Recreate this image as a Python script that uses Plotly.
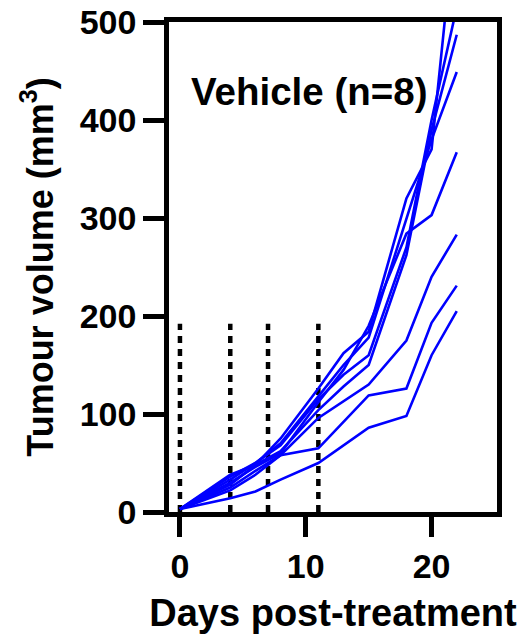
import plotly.graph_objects as go

days = [0, 4, 6, 8, 11, 13, 15, 18, 20, 22]
mouse_1 = [3, 38, 48, 75, 126, 162, 184, 320, 370, 620]
mouse_2 = [3, 33, 50, 68, 115, 140, 160, 270, 400, 515]
mouse_3 = [3, 28, 48, 62, 104, 128, 150, 262, 390, 487]
mouse_4 = [3, 36, 50, 70, 118, 150, 178, 300, 380, 449]
mouse_5 = [3, 30, 46, 60, 112, 145, 190, 284, 303, 367]
mouse_6 = [3, 25, 42, 58, 96, 113, 130, 175, 240, 283]
mouse_7 = [3, 22, 38, 58, 65, 92, 119, 126, 193, 231]
mouse_8 = [3, 14, 21, 33, 50, 68, 86, 98, 160, 205]
mice = [mouse_1, mouse_2, mouse_3, mouse_4, mouse_5, mouse_6, mouse_7, mouse_8]

treatment_days = [0, 4, 7, 11]
treatment_marker_range = [0, 192]

x_ticks = [0, 10, 20]
y_ticks = [0, 100, 200, 300, 400, 500]

FONT = "Liberation Sans, Arial, Helvetica, sans-serif"

fig = go.Figure()

for d in treatment_days:
    fig.add_trace(go.Scatter(
        x=[d, d], y=treatment_marker_range, mode="lines",
        line=dict(color="black", width=4.5, dash="7px,6px"),
        hoverinfo="skip", showlegend=False,
    ))

for m in mice:
    fig.add_trace(go.Scatter(
        x=days, y=m, mode="lines",
        line=dict(color="#0000FF", width=2.6),
        showlegend=False,
    ))

fig.add_annotation(
    text="Vehicle (n=8)", xref="paper", yref="paper",
    x=0.427, y=0.906, showarrow=False,
    font=dict(family=FONT, size=38.5, color="black", weight="bold"),
)

axis_common = dict(
    showline=True, linecolor="black", linewidth=4.5, mirror=True,
    ticks="outside", tickcolor="black", tickwidth=4.5,
    showgrid=False, zeroline=False, automargin=False,
    ticklabeloverflow="allow",
    tickfont=dict(family=FONT, size=34, color="black", weight="bold"),
)

fig.update_xaxes(
    range=[-0.87, 25.2], tickvals=x_ticks, ticklen=20,
    title=dict(text="Days post-treatment", standoff=17,
               font=dict(family=FONT, size=38, color="black", weight="bold")),
    **axis_common,
)
fig.update_yaxes(
    range=[0, 500], tickvals=y_ticks, ticklen=21,
    title=dict(text="Tumour volume (mm<sup>3</sup>)", standoff=17,
               font=dict(family=FONT, size=36, color="black", weight="bold")),
    **axis_common,
)

# the page body adds an 8px offset, so the figure is sized to fit inside the window
fig.update_layout(
    width=523, height=635,
    margin=dict(l=161, r=34, t=14, b=131),
    plot_bgcolor="white", paper_bgcolor="white",
    font=dict(family=FONT, color="black", weight="bold"),
)

fig.write_html("out.html")
